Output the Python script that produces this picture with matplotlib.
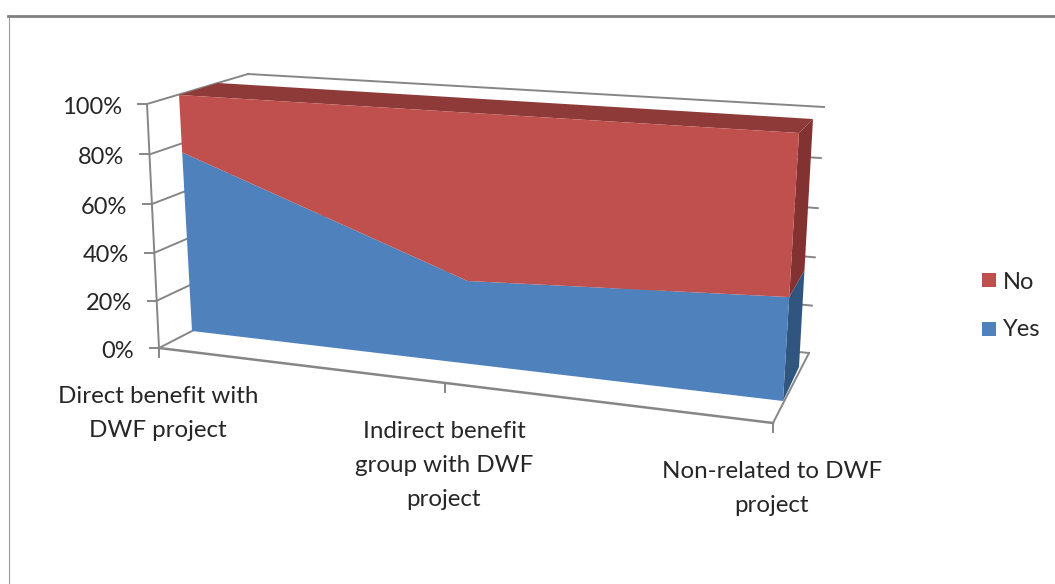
#!/usr/bin/env python
# coding: utf-8
import numpy as np
import matplotlib
matplotlib.use("Agg")
import matplotlib.pyplot as plt

categories = ["Direct benefit with\nDWF project",
              "Indirect benefit\ngroup with DWF\nproject",
              "Non-related to DWF\nproject"]
cat_pos = [0, 1, 2]
yes = [76.5, 34, 40]
no = [23.5, 66, 60]
pct_ticks = [0, 20, 40, 60, 80, 100]
legend_names = ["No", "Yes"]

C_RED = "#C0504D"
C_RED_TOP = "#8E3A38"
C_RED_SIDE = "#823331"
C_BLUE = "#4F81BD"
C_BLUE_SIDE = "#30557F"
C_LINE = "#868686"
C_TEXT = "#262626"

plt.rcParams['font.family'] = ['Lato', 'DejaVu Sans']


def homography(corners):
    # corners: bottom-left, bottom-right, top-right, top-left in pixels
    src = [(0, 0), (2, 0), (2, 100), (0, 100)]
    A = []
    b = []
    for (u, v), (px, py) in zip(src, corners):
        A.append([u, v, 1, 0, 0, 0, -u * px, -v * px])
        A.append([0, 0, 0, u, v, 1, -u * py, -v * py])
        b += [px, py]
    h = np.linalg.solve(np.array(A, float), np.array(b, float))
    return np.append(h, 1).reshape(3, 3)


def proj(H, x, y):
    p = H @ np.array([x, y, 1.0])
    return p[0] / p[2], p[1] / p[2]


def path(H, xs, ys):
    return np.array([proj(H, a, b) for a, b in zip(xs, ys)])


# perspective planes of the fake 3d box
box_front = homography([(159, 348), (773, 423), (789, 145), (147, 104)])
box_back = homography([(258, 297), (809, 353), (824, 107), (248, 74)])
ser_front = homography([(192, 331), (783, 401), (799, 133), (179, 95)])
ser_back = homography([(228, 312), (799, 367), (813, 119), (218, 83)])

fig = plt.figure(figsize=(10.55, 5.84), dpi=100)
ax = fig.add_axes([0, 0, 1, 1])
ax.set_xlim(0, 1055)
ax.set_ylim(584, 0)
ax.axis("off")

# chart frame
ax.plot([8.5, 8.5], [15, 584], color="#9a9a9a", lw=0.8)
ax.plot([8, 1055], [15.5, 15.5], color="#808080", lw=2.0)

# back wall gridlines and side wall lines
for t in pct_ticks:
    p = path(box_back, [0, 2], [t, t])
    q = np.array([proj(box_front, 0, t), proj(box_back, 0, t)])
    ax.plot(p[:, 0], p[:, 1], color=C_LINE, lw=1.4, zorder=1)
    ax.plot(q[:, 0], q[:, 1], color=C_LINE, lw=1.4, zorder=1)
    ax.plot([q[0, 0] - 9, q[0, 0]], [q[0, 1], q[0, 1]], color=C_LINE, lw=1.4, zorder=1)
    ax.text(q[0, 0] - 25, q[0, 1] + 3, "%d%%" % t, ha="right", va="center",
            fontsize=17, color=C_TEXT)

# axis lines of the box
v = path(box_front, [0, 0], [0, 100])
ax.plot(v[:, 0], v[:, 1], color=C_LINE, lw=1.4, zorder=1)
f = path(box_front, [0, 2], [0, 0])
ax.plot(f[:, 0], f[:, 1], color=C_LINE, lw=1.8, zorder=1)
r = np.array([proj(box_front, 2, 0), proj(box_back, 2, 0)])
ax.plot(r[:, 0], r[:, 1], color=C_LINE, lw=1.4, zorder=1)

# category ticks and labels
for c, name in zip(cat_pos, categories):
    x0, y0 = proj(box_front, c, 0)
    ax.plot([x0, x0], [y0, y0 + 9], color=C_LINE, lw=1.4, zorder=1)
    ax.text(x0 - 1, y0 + 38, name, ha="center", va="top", fontsize=17.4,
            color=C_TEXT, linespacing=1.76)

# stacked area, front and depth faces
top = np.array(yes) + np.array(no)
zero = np.zeros(len(yes))
end = cat_pos[-1]

side_blue = np.array([proj(ser_front, end, 0), proj(ser_back, end, 0),
                      proj(ser_back, end, yes[-1]), proj(ser_front, end, yes[-1])])
side_red = np.array([proj(ser_front, end, yes[-1]), proj(ser_back, end, yes[-1]),
                     proj(ser_back, end, top[-1]), proj(ser_front, end, top[-1])])
top_face = np.vstack([path(ser_front, cat_pos, top),
                      path(ser_back, cat_pos, top)[::-1]])
ax.fill(side_blue[:, 0], side_blue[:, 1], color=C_BLUE_SIDE, lw=0, zorder=2)
ax.fill(side_red[:, 0], side_red[:, 1], color=C_RED_SIDE, lw=0, zorder=2)
ax.fill(top_face[:, 0], top_face[:, 1], color=C_RED_TOP, lw=0, zorder=2)

blue_face = np.vstack([path(ser_front, cat_pos, zero),
                       path(ser_front, cat_pos, yes)[::-1]])
red_face = np.vstack([path(ser_front, cat_pos, yes),
                      path(ser_front, cat_pos, top)[::-1]])
ax.fill(blue_face[:, 0], blue_face[:, 1], color=C_BLUE, lw=0, zorder=3)
ax.fill(red_face[:, 0], red_face[:, 1], color=C_RED, lw=0, zorder=3)

# legend
for name, col, yy, base in zip(legend_names, [C_RED, C_BLUE], [280, 329], [289, 336]):
    ax.fill([982, 996, 996, 982], [yy - 7, yy - 7, yy + 7, yy + 7], color=col, lw=0)
    ax.text(1003, base, name, ha="left", va="baseline", fontsize=17, color=C_TEXT)

fig.savefig("out.png", dpi=100)
